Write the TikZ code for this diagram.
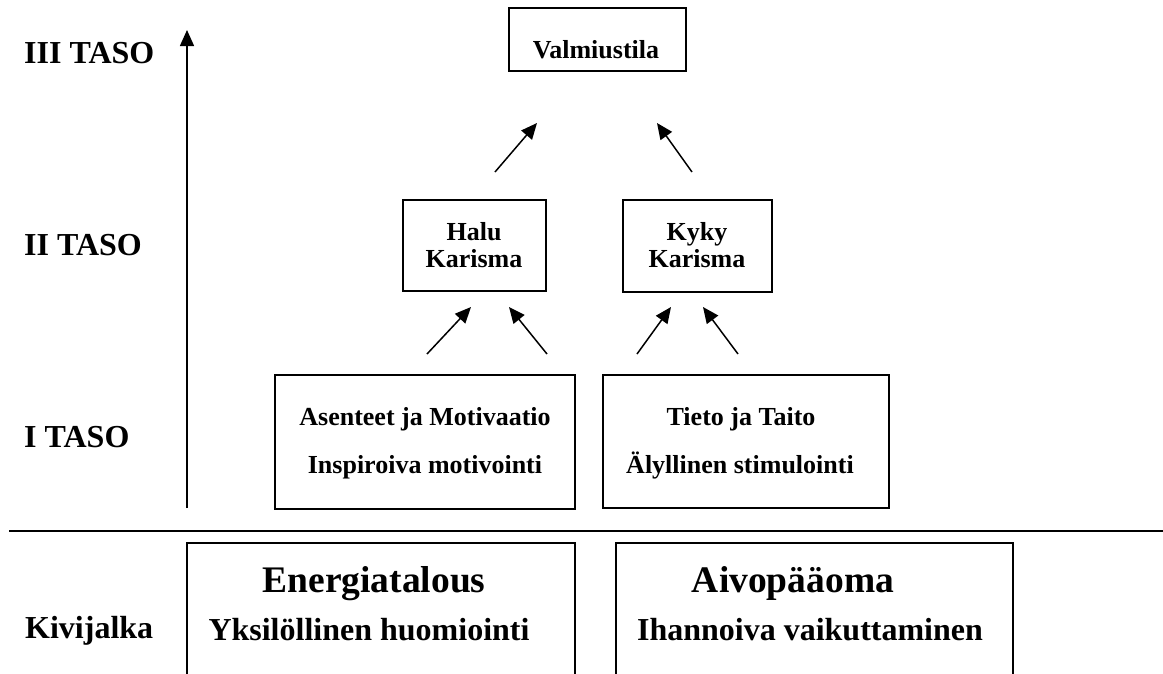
\documentclass[tikz,border=0pt]{standalone}
\usepackage{fontspec}
\setmainfont{Liberation Serif}
\usetikzlibrary{arrows.meta}
\tikzset{
boxnode/.style={rectangle, draw=black!100,fill=none, line width=1.5pt, inner sep=0pt},
tasotext/.style={font=\fontsize{32}{34}\selectfont\bfseries, anchor=base west, inner sep=0pt},
boxtext/.style={font=\fontsize{26}{28}\selectfont\bfseries, anchor=base, inner sep=0pt},
bigtext/.style={font=\fontsize{37.5}{40}\selectfont\bfseries, anchor=base, inner sep=0pt},
midtext/.style={font=\fontsize{32}{34}\selectfont\bfseries, anchor=base, inner sep=0pt},
uparrow/.style={-{Triangle[length=16pt,width=14pt]}, line width=1.5pt, black},
}

\begin{document}
\begin{tikzpicture}[x=1pt,y=-1pt]
        \useasboundingbox (0,0) rectangle (1163,673);
        \clip (0,0) rectangle (1163,673);

        \node[tasotext] at (24,63) (t3) {III TASO};
        \node[tasotext] at (24,255) (t2) {II TASO};
        \node[tasotext] at (24,447) (t1) {I TASO};
        \node[tasotext] at (25,638) (kivi) {Kivijalka};
        \coordinate (axisbot) at (187,508);
        \coordinate (axistop) at (187,30);
        \draw[uparrow] (axisbot)--(axistop);

        \node[boxnode, minimum width=177pt, minimum height=63pt] at (597.5,39.5) (valmius) {};
        \node[boxtext] at (596,58) (valmiusT) {Valmiustila};

        \node[boxnode, minimum width=143pt, minimum height=91pt] at (474.5,245.5) (halu) {};
        \node[boxtext] at (474,240) (haluT1) {Halu};
        \node[boxtext] at (474,267) (haluT2) {Karisma};
        \node[boxnode, minimum width=149pt, minimum height=92pt] at (697.5,246) (kyky) {};
        \node[boxtext] at (697,240) (kykyT1) {Kyky};
        \node[boxtext] at (697,267) (kykyT2) {Karisma};

        \coordinate (a1) at (495,172);
        \coordinate (a2) at (537,123);
        \coordinate (a3) at (692,172);
        \coordinate (a4) at (657,123);
        \draw[uparrow] (a1)--(a2);
        \draw[uparrow] (a3)--(a4);

        \node[boxnode, minimum width=300pt, minimum height=134pt] at (425,442) (asenne) {};
        \node[boxtext] at (425,425) (asenneT1) {Asenteet ja Motivaatio};
        \node[boxtext] at (425,473) (asenneT2) {Inspiroiva motivointi};
        \node[boxnode, minimum width=286pt, minimum height=133pt] at (746,441.5) (tieto) {};
        \node[boxtext] at (741,425) (tietoT1) {Tieto ja Taito};
        \node[boxtext] at (740,473) (tietoT2) {Älyllinen stimulointi};

        \coordinate (b1) at (427,354);
        \coordinate (b2) at (471,307);
        \coordinate (b3) at (547,354);
        \coordinate (b4) at (509,307);
        \coordinate (b5) at (637,354);
        \coordinate (b6) at (671,307);
        \coordinate (b7) at (738,354);
        \coordinate (b8) at (703,307);
        \draw[uparrow] (b1)--(b2);
        \draw[uparrow] (b3)--(b4);
        \draw[uparrow] (b5)--(b6);
        \draw[uparrow] (b7)--(b8);

        \coordinate (baseL) at (9,531);
        \coordinate (baseR) at (1163,531);
        \draw[line width=1.5pt,black] (baseL)--(baseR);

        \node[boxnode, minimum width=388pt, minimum height=154pt] at (381,620) (energia) {};
        \node[bigtext] at (374,592) (energiaT1) {Energiatalous};
        \node[midtext] at (369,640) (energiaT2) {Yksilöllinen huomiointi};
        \node[boxnode, minimum width=397pt, minimum height=154pt] at (814.5,620) (aivo) {};
        \node[bigtext] at (793,592) (aivoT1) {Aivopääoma};
        \node[midtext] at (810,640) (aivoT2) {Ihannoiva vaikuttaminen};
\end{tikzpicture}
\end{document}
